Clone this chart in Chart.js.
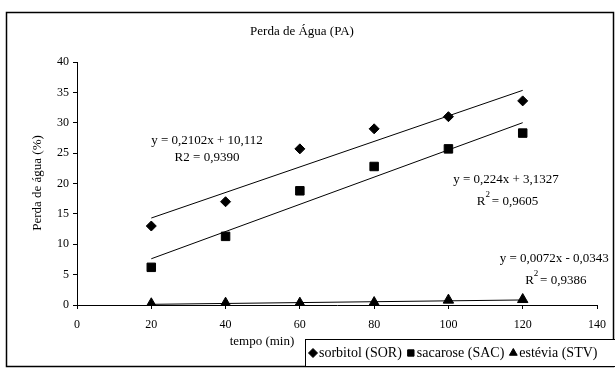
<!DOCTYPE html>
<html>
<head>
<meta charset="utf-8">
<script src="https://cdn.jsdelivr.net/npm/chart.js@4"></script>
<style>
  body { margin: 0; background: #fff; }
  #wrap { width: 615px; height: 370px; }
</style>
</head>
<body>
<div id="wrap"><canvas id="c" width="615" height="370"></canvas></div>
<script>
// time points (min)
const tempo = [20, 40, 60, 80, 100, 120];
// water loss (%) per sweetener
const sorbitol = [13.0, 17.0, 25.7, 29.0, 31.0, 33.6];
const sacarose = [6.2, 11.3, 18.8, 22.8, 25.7, 28.3];
const estevia = [0.2, 0.3, 0.3, 0.4, 0.8, 0.9];
// linear trendlines, as printed on the chart
const slopes = [0.2102, 0.224, 0.0072];
const intercepts = [10.112, 3.1327, -0.0343];
const seriesNames = ['sorbitol (SOR)', 'sacarose (SAC)', 'estévia (STV)'];
const pointStyles = ['rectRot', 'rect', 'triangle'];

const FONT = "'Liberation Serif', 'DejaVu Serif', serif";

function toPoints(ys) {
    return tempo.map((t, i) => ({ x: t, y: ys[i] }));
}
function trend(k) {
    const x0 = tempo[0], x1 = tempo[tempo.length - 1];
    return [
        { x: x0, y: slopes[k] * x0 + intercepts[k] },
        { x: x1, y: slopes[k] * x1 + intercepts[k] }
    ];
}

// equation labels, placed in data coordinates
const eqLabels = [
    { x: 35, y: 27.0, lines: ['y = 0,2102x + 10,112', 'R2 = 0,9390'], sup: false },
    { x: 115.5, y: 20.6, lines: ['y = 0,224x + 3,1327', 'R = 0,9605'], sup: true },
    { x: 128.5, y: 7.7, lines: ['y = 0,0072x - 0,0343', 'R = 0,9386'], sup: true }
];

const decorPlugin = {
    id: 'decor',
    beforeDraw(chart) {
        const ctx = chart.ctx;
        ctx.save();
        ctx.fillStyle = '#fff';
        ctx.fillRect(0, 0, chart.width, chart.height);
        ctx.restore();
    },
    afterDraw(chart) {
        const ctx = chart.ctx;
        const xs = chart.scales.x, ys = chart.scales.y;
        ctx.save();

        ctx.fillStyle = '#000';
        ctx.textBaseline = 'middle';
        ctx.textAlign = 'center';
        // title
        ctx.font = '13px ' + FONT;
        ctx.fillText('Perda de Água (PA)', 302, 32);

        // axis titles
        ctx.font = '13px ' + FONT;
        ctx.fillText('tempo (min)', 262, 342);
        ctx.save();
        ctx.translate(38, 183);
        ctx.rotate(-Math.PI / 2);
        ctx.fillText('Perda de água (%)', 0, 0);
        ctx.restore();

        // trendline equations
        ctx.font = '13px ' + FONT;
        eqLabels.forEach(l => {
            const px = xs.getPixelForValue(l.x);
            const py = ys.getPixelForValue(l.y);
            ctx.textAlign = 'center';
            ctx.fillText(l.lines[0], px, py);
            if (l.sup) {
                const w1 = ctx.measureText('R').width;
                const w2 = ctx.measureText(l.lines[1].slice(1)).width;
                const start = px - (w1 + w2) / 2;
                ctx.textAlign = 'left';
                ctx.fillText('R', start, py + 22);
                ctx.font = '9px ' + FONT;
                ctx.fillText('2', start + w1, py + 15);
                ctx.font = '13px ' + FONT;
                ctx.fillText(l.lines[1].slice(1), start + w1 + 3, py + 22);
            } else {
                ctx.fillText(l.lines[1], px, py + 17);
            }
        });

        // outer frame
        ctx.strokeStyle = '#000';
        ctx.lineWidth = 1.5;
        ctx.strokeRect(6.5, 12.5, 607, 354);

        // legend box
        ctx.lineWidth = 1;
        ctx.fillStyle = '#fff';
        ctx.fillRect(305.5, 339.5, 310, 27);
        ctx.strokeRect(305.5, 339.5, 310, 27);
        ctx.textAlign = 'left';
        ctx.font = '14px ' + FONT;
        let lx = 308;
        seriesNames.forEach((name, i) => {
            ctx.fillStyle = '#000';
            ctx.strokeStyle = '#000';
            Chart.helpers.drawPoint(ctx, { pointStyle: pointStyles[i], radius: 4.5, borderWidth: 1 }, lx + 5, 353);
            ctx.fillStyle = '#000';
            ctx.fillText(name, lx + 11, 353.5);
            lx += 11 + ctx.measureText(name).width + 4;
        });
        ctx.restore();
    }
};

const markerColor = '#000';
const datasets = [sorbitol, sacarose, estevia].map((ys, i) => ({
    type: 'scatter',
    label: seriesNames[i],
    data: toPoints(ys),
    pointStyle: pointStyles[i],
    pointRadius: i === 0 ? 5 : 6,
    backgroundColor: markerColor,
    borderColor: markerColor,
    borderWidth: 1,
    showLine: false
}));
[0, 1, 2].forEach(k => {
    datasets.push({
        type: 'line',
        label: 'trend ' + k,
        data: trend(k),
        borderColor: '#000',
        borderWidth: 1,
        pointRadius: 0,
        fill: false
    });
});

new Chart(document.getElementById('c'), {
    type: 'scatter',
    data: { datasets: datasets },
    plugins: [decorPlugin],
    options: {
        responsive: false,
        animation: false,
        layout: { padding: { left: 0, top: 62, right: 18, bottom: 0 } },
        plugins: {
            legend: { display: false },
            title: { display: false },
            tooltip: { enabled: false }
        },
        scales: {
            x: {
                type: 'linear',
                min: 0, max: 140,
                ticks: { stepSize: 20, color: '#000', font: { family: FONT, size: 12 }, padding: 9 },
                grid: { drawOnChartArea: false, drawTicks: true, tickLength: 4, color: '#000' },
                border: { color: '#000', width: 1 },
                afterFit: s => { s.height = 65; }
            },
            y: {
                min: 0, max: 40,
                ticks: { stepSize: 5, color: '#000', font: { family: FONT, size: 12 }, padding: 4 },
                grid: { drawOnChartArea: false, drawTicks: true, tickLength: 4, color: '#000' },
                border: { color: '#000', width: 1 },
                afterFit: s => { s.width = 77; }
            }
        }
    }
});
</script>
</body>
</html>
